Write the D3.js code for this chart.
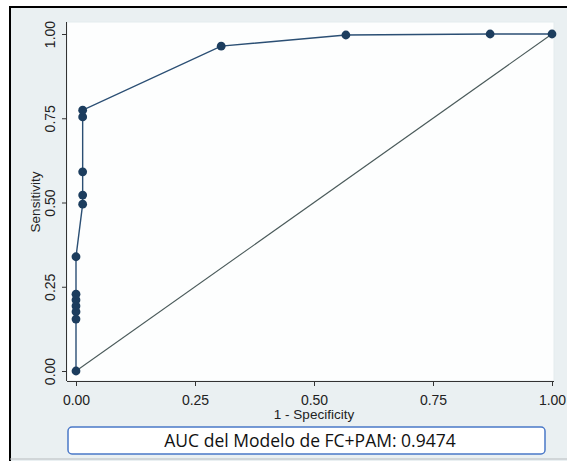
<!DOCTYPE html>
<html>
<head>
<meta charset="utf-8">
<script src="https://cdn.jsdelivr.net/npm/d3@7"></script>
<style>
  html, body { margin: 0; padding: 0; background: #ffffff; }
  svg { display: block; }
  .axis text { font-family: "Liberation Sans", Arial, sans-serif; font-size: 14px; fill: #222; }
  .axis path, .axis line { stroke: #333; stroke-width: 1; }
</style>
</head>
<body>
<script>
// ROC points (1 - specificity, sensitivity)
var fpr  = [0, 0, 0, 0, 0, 0, 0, 0.014, 0.014, 0.014, 0.014, 0.014, 0.305, 0.567, 0.87, 1];
var sens = [0, 0.154, 0.176, 0.193, 0.211, 0.228, 0.339, 0.495, 0.522, 0.591, 0.754, 0.774, 0.964, 0.997, 1, 1];
var refLine = [0, 1];
var tickVals = [0, 0.25, 0.5, 0.75, 1];
var aucLabel = "AUC del Modelo de FC+PAM: 0.9474";

var width = 567, height = 461;

var svg = d3.select("body").append("svg")
  .attr("width", width)
  .attr("height", height);

// graph region
svg.append("rect")
  .attr("x", 10).attr("y", 7)
  .attr("width", width - 10).attr("height", height - 7)
  .attr("fill", "#eaf0f2");
svg.append("line").attr("x1", 9).attr("x2", width).attr("y1", 7).attr("y2", 7)
  .attr("stroke", "#000").attr("stroke-width", 2);
svg.append("line").attr("x1", 10).attr("x2", 10).attr("y1", 6).attr("y2", height)
  .attr("stroke", "#000").attr("stroke-width", 2);
svg.append("line").attr("x1", 10).attr("x2", width).attr("y1", 459).attr("y2", 459)
  .attr("stroke", "#b8bcbf").attr("stroke-width", 1);

var x = d3.scaleLinear().domain([0, 1]).range([76, 552]);
var y = d3.scaleLinear().domain([0, 1]).range([371, 34]);

// plot region
svg.append("rect")
  .attr("x", 67).attr("y", 22)
  .attr("width", 554 - 67).attr("height", 381 - 22)
  .attr("fill", "#fdfefe")
  .attr("stroke", "#e4ecee");

var xAxis = d3.axisBottom(x).tickValues(tickVals).tickFormat(d3.format(".2f")).tickSize(5).tickSizeOuter(0);
var yAxis = d3.axisLeft(y).tickValues(tickVals).tickFormat(d3.format(".2f")).tickSize(5).tickSizeOuter(0);

var gx = svg.append("g").attr("class", "axis")
  .attr("transform", "translate(0,381)")
  .call(xAxis);
gx.select(".domain").attr("d", "M67,0.5H554");
gx.selectAll("text").attr("dy", "0.71em").attr("y", 14);

var gy = svg.append("g").attr("class", "axis")
  .attr("transform", "translate(67,0)")
  .call(yAxis);
gy.select(".domain").attr("d", "M-0.5,22V381");
gy.selectAll("text")
  .attr("x", null).attr("dy", null)
  .attr("transform", "translate(-12,0) rotate(-90)")
  .attr("text-anchor", "middle")
  .attr("y", 0);

svg.append("text")
  .attr("x", 314).attr("y", 419)
  .attr("text-anchor", "middle")
  .style("font-family", "Liberation Sans, Arial, sans-serif")
  .style("font-size", "13.5px")
  .attr("fill", "#222")
  .text("1 - Specificity");

svg.append("text")
  .attr("transform", "translate(40,202) rotate(-90)")
  .attr("text-anchor", "middle")
  .style("font-family", "Liberation Sans, Arial, sans-serif")
  .style("font-size", "13.5px")
  .attr("fill", "#222")
  .text("Sensitivity");

// reference diagonal
svg.append("line")
  .attr("x1", x(refLine[0])).attr("y1", y(refLine[0]))
  .attr("x2", x(refLine[1])).attr("y2", y(refLine[1]))
  .attr("stroke", "#4a5a5a").attr("stroke-width", 1.1);

var pts = fpr.map(function(d, i) { return [d, sens[i]]; });

var line = d3.line()
  .x(function(d) { return x(d[0]); })
  .y(function(d) { return y(d[1]); });

svg.append("path")
  .datum(pts)
  .attr("d", line)
  .attr("fill", "none")
  .attr("stroke", "#2b4f74")
  .attr("stroke-width", 1.4);

svg.selectAll(".pt")
  .data(pts)
  .enter().append("circle")
  .attr("class", "pt")
  .attr("cx", function(d) { return x(d[0]); })
  .attr("cy", function(d) { return y(d[1]); })
  .attr("r", 4.4)
  .attr("fill", "#1c3d5e");

// AUC box
svg.append("rect")
  .attr("x", 68).attr("y", 427)
  .attr("width", 545 - 68).attr("height", 27)
  .attr("rx", 4)
  .attr("fill", "#ffffff")
  .attr("stroke", "#4a78c8")
  .attr("stroke-width", 1.5);

svg.append("text")
  .attr("x", 310).attr("y", 447)
  .attr("text-anchor", "middle")
  .style("font-family", "Open Sans, sans-serif")
  .style("font-size", "17.5px")
  .attr("fill", "#111")
  .text(aucLabel);
</script>
</body>
</html>
